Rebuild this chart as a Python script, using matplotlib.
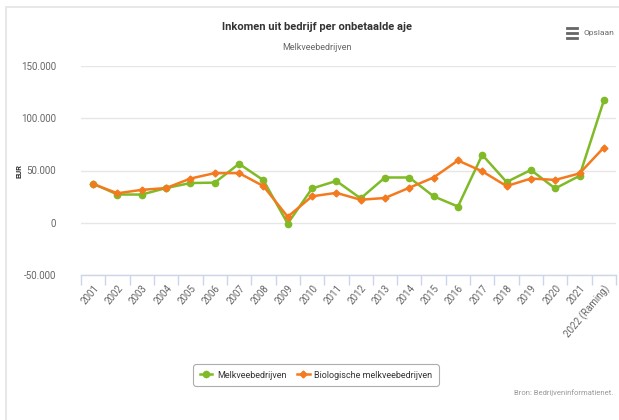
import matplotlib
matplotlib.use('Agg')
import matplotlib.pyplot as plt
from matplotlib.patches import Rectangle
from matplotlib.lines import Line2D
import numpy as np

# data (EUR per onbetaalde aje)
jaren = ['2001', '2002', '2003', '2004', '2005', '2006', '2007', '2008', '2009', '2010', '2011',
         '2012', '2013', '2014', '2015', '2016', '2017', '2018', '2019', '2020', '2021',
         '2022 (Raming)']
melkvee = [37400, 27000, 27000, 33200, 38000, 38400, 56400, 40700, -800, 32800, 40000,
           23300, 43300, 43300, 25300, 15500, 65000, 39000, 50500, 32800, 44900, 117000]
biologisch = [37000, 28200, 31500, 33200, 42300, 47500, 47500, 35100, 5700, 25300, 28600,
              22000, 23700, 33500, 43300, 59600, 49200, 35100, 42300, 41000, 47200, 72000]

groen = '#80bb27'
oranje = '#f47a1f'
grijs = '#666666'

plt.rcParams['font.family'] = ['Roboto', 'DejaVu Sans']

fig = plt.figure(figsize=(6.19, 4.2), dpi=100)
fig.patch.set_facecolor('white')

# lichte rand rond de grafiek
fig.patches.append(Rectangle((6 / 619, -0.1), 1.2, 1 - 7 / 420 + 0.1, transform=fig.transFigure,
                             fill=False, edgecolor='#e4e4e4', lw=1.2))

ax = fig.add_axes([81 / 619, 1 - 275 / 420, 535 / 619, (275 - 66) / 420])
x = np.arange(len(jaren))

ax.plot(x, melkvee, color=groen, lw=1.8, marker='o', ms=4.5, zorder=3)
ax.plot(x, biologisch, color=oranje, lw=1.8, marker='D', ms=3.5, zorder=4)

ax.set_xlim(-0.5, len(jaren) - 0.5)
ax.set_ylim(-50000, 150000)
ax.set_yticks([-50000, 0, 50000, 100000, 150000])
ax.set_yticklabels(['-50.000', '0', '50.000', '100.000', '150.000'])
ax.grid(axis='y', color='#e6e6e6', lw=1)
ax.set_axisbelow(True)

for s in ['top', 'right', 'left']:
    ax.spines[s].set_visible(False)
ax.spines['bottom'].set_color('#ccd6eb')
ax.spines['bottom'].set_linewidth(1)

ax.set_xticks(x)
ax.set_xticklabels(jaren, rotation=50, ha='right', va='top', rotation_mode='anchor',
                   fontsize=7, color=grijs)
ax.set_xticks(np.arange(-0.5, len(jaren)), minor=True)
ax.tick_params(axis='x', which='major', length=0, pad=6)
ax.tick_params(axis='x', which='minor', length=7, color='#ccd6eb', width=1)
ax.tick_params(axis='y', length=0, labelsize=7, labelcolor=grijs, pad=18)

fig.text(19 / 619, 1 - 171 / 420, 'EUR', rotation=90, ha='center', va='center',
         fontsize=5.5, fontweight='bold', color='#333333')

fig.text(317 / 619, 1 - 27 / 420, 'Inkomen uit bedrijf per onbetaalde aje', ha='center',
         va='center', fontsize=8, fontweight='bold', color='#333333')
fig.text(317 / 619, 1 - 47 / 420, 'Melkveebedrijven', ha='center', va='center',
         fontsize=6.5, color=grijs)

# menu-icoon + Opslaan
for yy in [28, 33, 38]:
    fig.add_artist(Line2D([567 / 619, 577 / 619], [1 - yy / 420, 1 - yy / 420],
                          color='#666666', lw=2))
fig.text(583 / 619, 1 - 33 / 420, 'Opslaan', ha='left', va='center', fontsize=6,
         color=grijs)

handles = [Line2D([], [], color=groen, lw=1.8, marker='o', ms=4.5),
           Line2D([], [], color=oranje, lw=1.8, marker='D', ms=3.5)]
leg = fig.legend(handles, ['Melkveebedrijven', 'Biologische melkveebedrijven'],
                 loc='center', bbox_to_anchor=(316 / 619, 1 - 375 / 420), ncol=2,
                 fontsize=6.5, frameon=True, handlelength=1.4, columnspacing=1.2,
                 handletextpad=0.5, borderpad=0.7)
leg.get_frame().set_edgecolor('#999999')
leg.get_frame().set_linewidth(0.8)
leg.get_frame().set_boxstyle('round', pad=0, rounding_size=0.3)
for t in leg.get_texts():
    t.set_color('#333333')

fig.text(613 / 619, 1 - 393 / 420, 'Bron: Bedrijveninformatienet.', ha='right', va='center',
         fontsize=5.5, color='#999999')

fig.savefig('out.png', dpi=100)
